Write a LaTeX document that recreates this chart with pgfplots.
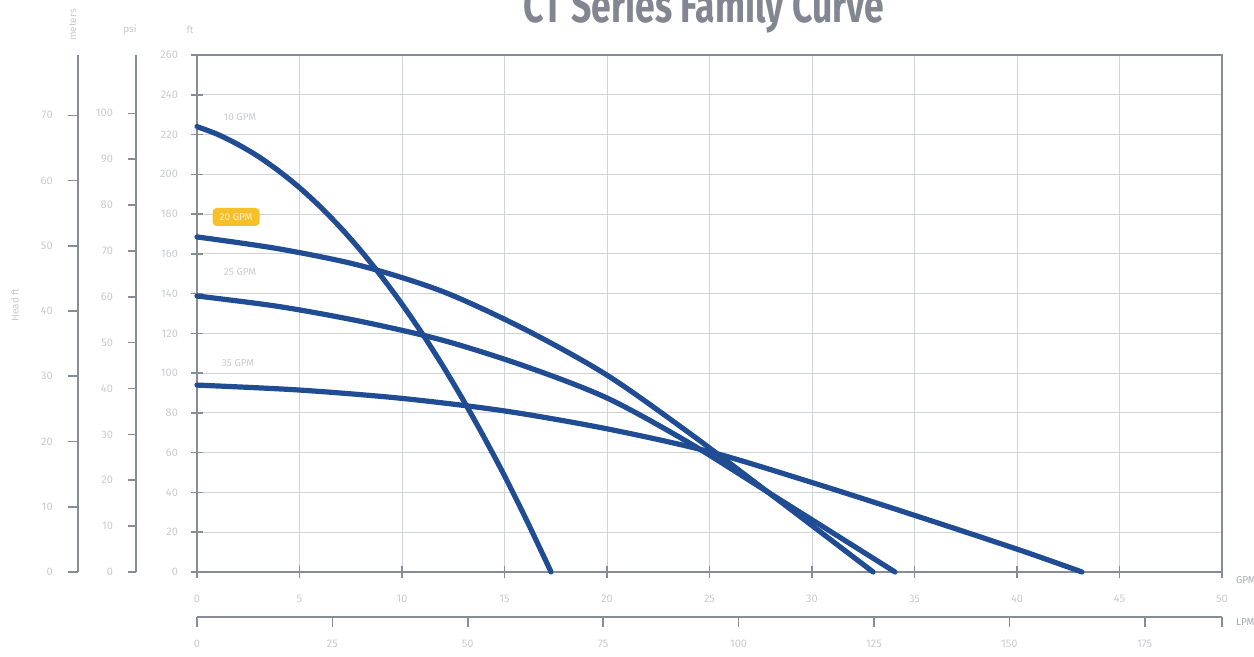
\documentclass[border=0pt]{standalone}
\usepackage{fontspec}
\setmainfont{Fira Sans}
\usepackage{pgfplots}
\pgfplotsset{compat=1.18}
\definecolor{curve}{RGB}{32,76,148}
\definecolor{axgray}{RGB}{135,141,150}
\definecolor{gridgray}{RGB}{208,211,215}
\definecolor{lbl}{RGB}{200,202,206}
\definecolor{titlec}{RGB}{130,134,144}
\definecolor{hl}{RGB}{245,192,40}
\begin{document}
\begin{tikzpicture}
\pgfplotsset{
  common/.style={
    scale only axis,
    axis line style={axgray, line width=1pt, -},
    tick style={axgray, line width=0.8pt},
    ticklabel style={font=\fontsize{5.5}{6}\selectfont, text=lbl},
    /pgf/number format/assume math mode=true,
  }
}
% main axis (ft vs GPM)
\begin{axis}[common,
  at={(98.5pt,42.5pt)}, anchor=south west,
  width=512.5pt, height=258.5pt,
  xmin=0, xmax=50, ymin=0, ymax=260,
  xtick={0,5,...,50}, ytick={0,20,...,260},
  tick pos=left,
  grid=major, major grid style={gridgray, line width=0.5pt},
  tick align=center, major tick length=6pt,
  xticklabel style={yshift=-5pt}, yticklabel style={xshift=-3pt},
  clip=false]
\addplot[curve, line width=2.6pt, smooth, line cap=round] coordinates {
 (0,224) (1,220.1) (2,215.0) (3,208.9) (4,201.6) (5,193.3) (6,183.8) (7,173.2) (8,161.5) (9,148.6)
 (10,134.7) (11,119.7) (12,103.5) (13,86.2) (14,67.8) (15,48.4) (16,27.7) (17,6.0) (17.27,0)};
\addplot[curve, line width=2.6pt, smooth, line cap=round] coordinates {
 (0,168.5) (4,162.5) (8,154) (12,141) (16,122) (20,99) (24,70) (28,39) (32.98,0)};
\addplot[curve, line width=2.6pt, smooth, line cap=round] coordinates {
 (0,138.8) (4,133.5) (8,126) (12,116.5) (16,103.5) (20,87.5) (24,65) (28,39.2) (34.05,0)};
\addplot[curve, line width=2.6pt, smooth, line cap=round] coordinates {
 (0,94) (5,91.5) (10,87.3) (15,81) (20,72) (25,60.5) (30,45) (35,28.5) (40,11.5) (43.17,0)};
\end{axis}
% meters axis
\begin{axis}[common,
  at={(38.85pt,42.5pt)}, anchor=south west,
  width=1pt, height=258.5pt,
  xmin=0, xmax=1, ymin=0, ymax=79.248,
  hide x axis, axis y line*=left,
  ytick={0,10,...,70},
  tick align=outside, major tick length=5pt,
  yticklabel style={xshift=-4pt}]
\addplot[draw=none] coordinates {(0,0)};
\end{axis}
% psi axis
\begin{axis}[common,
  at={(68pt,42.5pt)}, anchor=south west,
  width=1pt, height=258.5pt,
  xmin=0, xmax=1, ymin=0, ymax=112.72,
  hide x axis, axis y line*=left,
  ytick={0,10,...,100},
  tick align=outside, major tick length=4pt,
  yticklabel style={xshift=-4pt}]
\addplot[draw=none] coordinates {(0,0)};
\end{axis}
% LPM axis
\begin{axis}[common,
  at={(98.5pt,20pt)}, anchor=south west,
  width=512.5pt, height=1pt,
  xmin=0, xmax=189.27, ymin=0, ymax=1,
  hide y axis, axis x line*=bottom,
  xtick={0,25,...,175},
  extra x ticks={189.27}, extra x tick labels={},
  tick align=outside, major tick length=5pt,
  xticklabel style={yshift=-3pt}]
\addplot[draw=none] coordinates {(0,0)};
\end{axis}
% texts
\node[anchor=base, text=titlec, font=\fontsize{24}{28}\selectfont\bfseries] at (352pt,317pt) {\scalebox{0.74}[1]{CT Series Family Curve}};
\node[anchor=west, text=axgray!75, font=\fontsize{5}{6}\selectfont] at (614.5pt,38.5pt) {GPM};
\node[anchor=west, text=axgray!75, font=\fontsize{5}{6}\selectfont] at (614.5pt,17.5pt) {LPM};
\node[text=lbl, font=\fontsize{5}{6}\selectfont] at (120pt,270pt) {10 GPM};
\node[fill=hl, rounded corners=2pt, inner sep=1pt, minimum width=23.5pt, minimum height=9pt, text=white!75!hl, font=\fontsize{5}{6}\selectfont] at (118pt,220pt) {20 GPM};
\node[text=lbl, font=\fontsize{5}{6}\selectfont] at (120pt,192.5pt) {25 GPM};
\node[text=lbl, font=\fontsize{5}{6}\selectfont] at (119pt,147pt) {35 GPM};
\node[rotate=90, text=lbl, font=\fontsize{5}{6}\selectfont] at (7.5pt,176pt) {Head ft};
\node[rotate=90, text=lbl, font=\fontsize{5}{6}\selectfont] at (36.5pt,316pt) {meters};
\node[text=lbl, font=\fontsize{5}{6}\selectfont] at (65pt,313.5pt) {psi};
\node[text=lbl, font=\fontsize{5}{6}\selectfont] at (95pt,313.5pt) {ft};
\pgfresetboundingbox
\useasboundingbox (0,0) rectangle (627pt,328.5pt);
\end{tikzpicture}
\end{document}
